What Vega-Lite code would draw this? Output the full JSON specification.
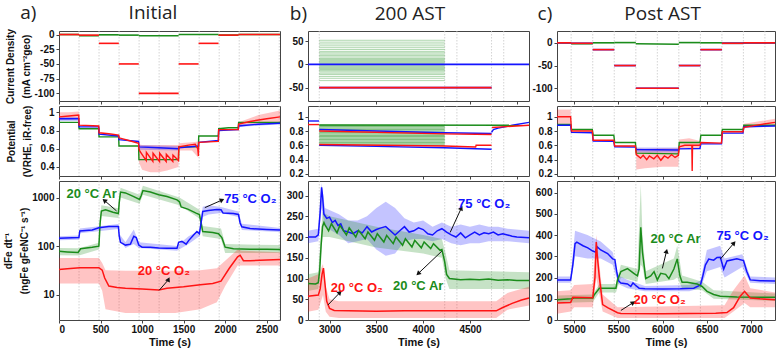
{
"$schema":"https://vega.github.io/schema/vega-lite/v6.json",
"padding":{"left":3,"top":3,"right":0,"bottom":0},
"background":"white",
"config":{
 "view":{"stroke":"#444","strokeWidth":1},
 "axis":{"labelFont":"Liberation Sans","labelFontWeight":"bold","labelFontSize":10,"labelColor":"#111","titleFont":"Liberation Sans","titleFontWeight":"bold","titleFontSize":10,"titleColor":"#111","domain":false,"tickColor":"#444","tickSize":3,"grid":false,"labelPadding":2,"titlePadding":2,"titleLineHeight":16,"labelExpr":"replace(datum.label, '−', '-')"},
 "axisX":{"titleFontSize":11,"titlePadding":2,"labelPadding":1},
 "mark":{"clip":true}
},
"datasets":{
 "ha":[{"t":-369,"v":35.8,"label":"a)"},{"t":1131,"v":35.8,"label":"Initial"}],
 "hb":[{"t":2668,"v":109.7,"label":"b)"},{"t":3859,"v":109.7,"label":"200 AST"}],
 "hc":[{"t":4670,"v":64.5,"label":"c)"},{"t":6000,"v":64.5,"label":"Post AST"}],
 "gA":[{"t":241},{"t":482},{"t":723},{"t":964},{"t":1205},{"t":1446},{"t":1687},{"t":1928},{"t":2169},{"t":2410},{"t":2651}],
 "gB":[{"t":2890},{"t":4230},{"t":4360},{"t":4730},{"t":4860}],
 "gC":[{"t":4966},{"t":5210},{"t":5453},{"t":5697},{"t":5940},{"t":6183},{"t":6427},{"t":6670},{"t":6913},{"t":7156}],
 "a1":[
  {"t":0,"v":0,"s":"g","k":"g1"},{"t":240,"v":0,"s":"g","k":"g1"},
  {"t":240,"v":-2,"s":"g","k":"g2"},{"t":480,"v":-2,"s":"g","k":"g2"},
  {"t":480,"v":-0.5,"s":"g","k":"g3"},{"t":720,"v":-0.5,"s":"g","k":"g3"},
  {"t":720,"v":-1,"s":"g","k":"g4"},{"t":960,"v":-1,"s":"g","k":"g4"},
  {"t":960,"v":-2,"s":"g","k":"g5"},{"t":1440,"v":-2,"s":"g","k":"g5"},
  {"t":1440,"v":0,"s":"g","k":"g6"},{"t":1920,"v":0,"s":"g","k":"g6"},
  {"t":1920,"v":-1,"s":"g","k":"g7"},{"t":2160,"v":-1,"s":"g","k":"g7"},
  {"t":2160,"v":0,"s":"g","k":"g8"},{"t":2660,"v":0,"s":"g","k":"g8"},
  {"t":0,"v":0,"s":"r","k":"r1"},{"t":240,"v":0,"s":"r","k":"r1"},
  {"t":240,"v":-1,"s":"r","k":"r2"},{"t":480,"v":-1,"s":"r","k":"r2"},
  {"t":480,"v":-15,"s":"r","k":"r3"},{"t":720,"v":-15,"s":"r","k":"r3"},
  {"t":720,"v":-50,"s":"r","k":"r4"},{"t":960,"v":-50,"s":"r","k":"r4"},
  {"t":960,"v":-100,"s":"r","k":"r5"},{"t":1440,"v":-100,"s":"r","k":"r5"},
  {"t":1440,"v":-50,"s":"r","k":"r6"},{"t":1680,"v":-50,"s":"r","k":"r6"},
  {"t":1680,"v":-15,"s":"r","k":"r7"},{"t":1920,"v":-15,"s":"r","k":"r7"},
  {"t":1920,"v":-1,"s":"r","k":"r8"},{"t":2160,"v":-1,"s":"r","k":"r8"},
  {"t":2160,"v":0,"s":"r","k":"r9"},{"t":2660,"v":0,"s":"r","k":"r9"}
 ],
 "a2":[
  {"t":0,"v":0.89,"s":"g"},{"t":238,"v":0.89,"s":"g"},{"t":242,"v":0.82,"s":"g"},{"t":478,"v":0.82,"s":"g"},{"t":482,"v":0.73,"s":"g"},{"t":718,"v":0.73,"s":"g"},{"t":722,"v":0.63,"s":"g"},{"t":958,"v":0.63,"s":"g"},{"t":962,"v":0.48,"s":"g"},{"t":1438,"v":0.48,"s":"g"},{"t":1442,"v":0.62,"s":"g"},{"t":1678,"v":0.62,"s":"g"},{"t":1682,"v":0.74,"s":"g"},{"t":1918,"v":0.74,"s":"g"},{"t":1922,"v":0.82,"s":"g"},{"t":2040,"v":0.83,"s":"g"},{"t":2158,"v":0.83,"s":"g"},{"t":2162,"v":0.89,"s":"g"},{"t":2660,"v":0.89,"s":"g"},
  {"t":0,"v":0.93,"s":"b"},{"t":238,"v":0.93,"s":"b"},{"t":242,"v":0.84,"s":"b"},{"t":478,"v":0.84,"s":"b"},{"t":482,"v":0.76,"s":"b"},{"t":718,"v":0.74,"s":"b"},{"t":722,"v":0.70,"s":"b"},{"t":958,"v":0.68,"s":"b"},{"t":962,"v":0.62,"s":"b"},{"t":1200,"v":0.61,"s":"b"},{"t":1438,"v":0.60,"s":"b"},{"t":1442,"v":0.61,"s":"b"},{"t":1678,"v":0.63,"s":"b"},{"t":1682,"v":0.67,"s":"b"},{"t":1918,"v":0.69,"s":"b"},{"t":1922,"v":0.80,"s":"b"},{"t":2158,"v":0.81,"s":"b"},{"t":2162,"v":0.85,"s":"b"},{"t":2400,"v":0.87,"s":"b"},{"t":2660,"v":0.88,"s":"b"},
  {"t":0,"v":0.95,"s":"r"},{"t":120,"v":0.96,"s":"r"},{"t":238,"v":0.97,"s":"r"},{"t":242,"v":0.86,"s":"r"},{"t":478,"v":0.85,"s":"r"},{"t":482,"v":0.775,"s":"r"},{"t":600,"v":0.765,"s":"r"},{"t":718,"v":0.75,"s":"r"},{"t":722,"v":0.72,"s":"r"},{"t":840,"v":0.69,"s":"r"},{"t":958,"v":0.66,"s":"r"},{"t":962,"v":0.60,"s":"r"},{"t":975,"v":0.57,"s":"r"},{"t":1050,"v":0.47,"s":"r"},{"t":1052,"v":0.56,"s":"r"},{"t":1130,"v":0.46,"s":"r"},{"t":1132,"v":0.55,"s":"r"},{"t":1210,"v":0.46,"s":"r"},{"t":1212,"v":0.55,"s":"r"},{"t":1290,"v":0.46,"s":"r"},{"t":1292,"v":0.54,"s":"r"},{"t":1370,"v":0.46,"s":"r"},{"t":1372,"v":0.53,"s":"r"},{"t":1438,"v":0.47,"s":"r"},{"t":1442,"v":0.62,"s":"r"},{"t":1560,"v":0.64,"s":"r"},{"t":1640,"v":0.65,"s":"r"},{"t":1670,"v":0.60,"s":"r"},{"t":1678,"v":0.52,"s":"r"},{"t":1682,"v":0.67,"s":"r"},{"t":1918,"v":0.68,"s":"r"},{"t":1922,"v":0.81,"s":"r"},{"t":2158,"v":0.81,"s":"r"},{"t":2162,"v":0.87,"s":"r"},{"t":2300,"v":0.90,"s":"r"},{"t":2500,"v":0.93,"s":"r"},{"t":2660,"v":0.95,"s":"r"}
 ],
 "a2b":[
  {"t":0,"lo":0.92,"hi":1.0,"s":"r","k":"r1"},{"t":120,"lo":0.92,"hi":1.0,"s":"r","k":"r1"},{"t":238,"lo":0.93,"hi":1.01,"s":"r","k":"r1"},
  {"t":962,"lo":0.45,"hi":0.65,"s":"r","k":"r5"},{"t":1000,"lo":0.37,"hi":0.64,"s":"r","k":"r5"},{"t":1100,"lo":0.34,"hi":0.64,"s":"r","k":"r5"},{"t":1200,"lo":0.34,"hi":0.64,"s":"r","k":"r5"},{"t":1300,"lo":0.36,"hi":0.64,"s":"r","k":"r5"},{"t":1438,"lo":0.40,"hi":0.64,"s":"r","k":"r5"},{"t":1442,"lo":0.58,"hi":0.66,"s":"r","k":"r5"},{"t":1600,"lo":0.58,"hi":0.67,"s":"r","k":"r5"},{"t":1678,"lo":0.50,"hi":0.68,"s":"r","k":"r5"},
  {"t":2162,"lo":0.86,"hi":0.89,"s":"r","k":"r9"},{"t":2400,"lo":0.87,"hi":0.97,"s":"r","k":"r9"},{"t":2660,"lo":0.88,"hi":1.02,"s":"r","k":"r9"},
  {"t":0,"lo":0.905,"hi":0.95,"s":"b","k":"b1"},{"t":238,"lo":0.905,"hi":0.95,"s":"b","k":"b1"},
  {"t":962,"lo":0.59,"hi":0.64,"s":"b","k":"b5"},{"t":1438,"lo":0.58,"hi":0.63,"s":"b","k":"b5"},
  {"t":2162,"lo":0.84,"hi":0.87,"s":"b","k":"b9"},{"t":2660,"lo":0.87,"hi":0.89,"s":"b","k":"b9"}
 ],
 "a3":[
  {"t":0,"v":78,"s":"g"},{"t":100,"v":76,"s":"g"},{"t":230,"v":74,"s":"g"},{"t":260,"v":88,"s":"g"},{"t":400,"v":95,"s":"g"},{"t":480,"v":100,"s":"g"},{"t":495,"v":300,"s":"g"},{"t":510,"v":530,"s":"g"},{"t":560,"v":560,"s":"g"},{"t":650,"v":500,"s":"g"},{"t":715,"v":470,"s":"g"},{"t":725,"v":800,"s":"g"},{"t":740,"v":1300,"s":"g"},{"t":800,"v":1250,"s":"g"},{"t":900,"v":1050,"s":"g"},{"t":970,"v":920,"s":"g"},{"t":990,"v":1100,"s":"g"},{"t":1010,"v":1400,"s":"g"},{"t":1100,"v":1300,"s":"g"},{"t":1200,"v":1150,"s":"g"},{"t":1300,"v":1050,"s":"g"},{"t":1420,"v":900,"s":"g"},{"t":1450,"v":820,"s":"g"},{"t":1470,"v":640,"s":"g"},{"t":1550,"v":580,"s":"g"},{"t":1650,"v":480,"s":"g"},{"t":1690,"v":450,"s":"g"},{"t":1710,"v":300,"s":"g"},{"t":1730,"v":200,"s":"g"},{"t":1850,"v":190,"s":"g"},{"t":1920,"v":180,"s":"g"},{"t":1960,"v":150,"s":"g"},{"t":2000,"v":95,"s":"g"},{"t":2100,"v":88,"s":"g"},{"t":2300,"v":86,"s":"g"},{"t":2500,"v":86,"s":"g"},{"t":2660,"v":85,"s":"g"},
  {"t":0,"v":145,"s":"b"},{"t":240,"v":150,"s":"b"},{"t":250,"v":205,"s":"b"},{"t":400,"v":215,"s":"b"},{"t":480,"v":240,"s":"b"},{"t":600,"v":255,"s":"b"},{"t":715,"v":255,"s":"b"},{"t":725,"v":160,"s":"b"},{"t":740,"v":120,"s":"b"},{"t":800,"v":105,"s":"b"},{"t":860,"v":110,"s":"b"},{"t":900,"v":160,"s":"b"},{"t":930,"v":150,"s":"b"},{"t":960,"v":105,"s":"b"},{"t":1000,"v":95,"s":"b"},{"t":1100,"v":95,"s":"b"},{"t":1200,"v":92,"s":"b"},{"t":1300,"v":90,"s":"b"},{"t":1420,"v":90,"s":"b"},{"t":1440,"v":120,"s":"b"},{"t":1480,"v":125,"s":"b"},{"t":1530,"v":110,"s":"b"},{"t":1560,"v":130,"s":"b"},{"t":1620,"v":170,"s":"b"},{"t":1660,"v":200,"s":"b"},{"t":1690,"v":180,"s":"b"},{"t":1710,"v":300,"s":"b"},{"t":1730,"v":520,"s":"b"},{"t":1800,"v":540,"s":"b"},{"t":1900,"v":570,"s":"b"},{"t":1950,"v":560,"s":"b"},{"t":1975,"v":480,"s":"b"},{"t":2100,"v":470,"s":"b"},{"t":2160,"v":450,"s":"b"},{"t":2180,"v":300,"s":"b"},{"t":2200,"v":250,"s":"b"},{"t":2300,"v":230,"s":"b"},{"t":2500,"v":220,"s":"b"},{"t":2660,"v":215,"s":"b"},
  {"t":0,"v":33,"s":"r"},{"t":100,"v":34,"s":"r"},{"t":250,"v":36,"s":"r"},{"t":480,"v":36,"s":"r"},{"t":520,"v":32,"s":"r"},{"t":550,"v":22,"s":"r"},{"t":600,"v":15,"s":"r"},{"t":700,"v":14,"s":"r"},{"t":800,"v":13.5,"s":"r"},{"t":1000,"v":13,"s":"r"},{"t":1200,"v":12.5,"s":"r"},{"t":1300,"v":13.5,"s":"r"},{"t":1500,"v":14.5,"s":"r"},{"t":1700,"v":16,"s":"r"},{"t":1850,"v":17,"s":"r"},{"t":1950,"v":19,"s":"r"},{"t":2050,"v":35,"s":"r"},{"t":2150,"v":60,"s":"r"},{"t":2180,"v":65,"s":"r"},{"t":2220,"v":50,"s":"r"},{"t":2300,"v":50,"s":"r"},{"t":2500,"v":52,"s":"r"},{"t":2660,"v":53,"s":"r"}
 ],
 "a3b":[
  {"t":0,"lo":65,"hi":92,"s":"g"},{"t":240,"lo":64,"hi":90,"s":"g"},{"t":480,"lo":85,"hi":118,"s":"g"},{"t":495,"lo":250,"hi":380,"s":"g"},{"t":510,"lo":420,"hi":700,"s":"g"},{"t":715,"lo":380,"hi":600,"s":"g"},{"t":740,"lo":1000,"hi":1600,"s":"g"},{"t":970,"lo":750,"hi":1150,"s":"g"},{"t":1010,"lo":1150,"hi":1750,"s":"g"},{"t":1450,"lo":700,"hi":1000,"s":"g"},{"t":1690,"lo":370,"hi":560,"s":"g"},{"t":1730,"lo":160,"hi":260,"s":"g"},{"t":1950,"lo":140,"hi":230,"s":"g"},{"t":2000,"lo":72,"hi":110,"s":"g"},{"t":2660,"lo":72,"hi":105,"s":"g"},
  {"t":0,"lo":132,"hi":160,"s":"b"},{"t":240,"lo":135,"hi":165,"s":"b"},{"t":250,"lo":185,"hi":230,"s":"b"},{"t":715,"lo":225,"hi":285,"s":"b"},{"t":725,"lo":140,"hi":180,"s":"b"},{"t":800,"lo":92,"hi":120,"s":"b"},{"t":900,"lo":110,"hi":220,"s":"b"},{"t":960,"lo":92,"hi":120,"s":"b"},{"t":1420,"lo":80,"hi":100,"s":"b"},{"t":1560,"lo":110,"hi":160,"s":"b"},{"t":1690,"lo":160,"hi":210,"s":"b"},{"t":1730,"lo":400,"hi":650,"s":"b"},{"t":1800,"lo":450,"hi":700,"s":"b"},{"t":1950,"lo":480,"hi":640,"s":"b"},{"t":2160,"lo":400,"hi":520,"s":"b"},{"t":2200,"lo":215,"hi":290,"s":"b"},{"t":2660,"lo":195,"hi":235,"s":"b"},
  {"t":0,"lo":17,"hi":57,"s":"r"},{"t":480,"lo":17,"hi":57,"s":"r"},{"t":520,"lo":12,"hi":45,"s":"r"},{"t":560,"lo":5,"hi":32,"s":"r"},{"t":800,"lo":4.2,"hi":31,"s":"r"},{"t":1400,"lo":4.2,"hi":31,"s":"r"},{"t":1700,"lo":5,"hi":32,"s":"r"},{"t":1900,"lo":7,"hi":35,"s":"r"},{"t":2000,"lo":15,"hi":50,"s":"r"},{"t":2150,"lo":40,"hi":85,"s":"r"},{"t":2200,"lo":40,"hi":80,"s":"r"},{"t":2660,"lo":40,"hi":75,"s":"r"}
 ],
 "a3x":[{"t":553,"v":855,"t2":693,"v2":531,"a":310},{"t":1955,"v":880,"t2":1755,"v2":621,"a":66},{"t":1314,"v":20,"t2":1206,"v2":12.3,"a":27}],
 "a3t":[{"t":393,"v":1170,"label":"20 °C Ar","s":"g"},{"t":2304,"v":920,"label":"75 °C O₂","s":"b"},{"t":1262,"v":30,"label":"20 °C O₂","s":"r"}],
 "b1":[
  {"t":2770,"v":0,"s":"b","k":"b0"},{"t":5130,"v":0,"s":"b","k":"b0"},
  {"t":2890,"v":-50,"s":"b","k":"b50"},{"t":4730,"v":-50,"s":"b","k":"b50"},
  {"t":2890,"v":-50,"s":"r","k":"r50"},{"t":4730,"v":-50,"s":"r","k":"r50"}
 ],
 "b1g":[{"t":2890,"t2":4230,"v":52},{"t":2890,"t2":4230,"v":48},{"t":2890,"t2":4230,"v":44},{"t":2890,"t2":4230,"v":40},{"t":2890,"t2":4230,"v":36},{"t":2890,"t2":4230,"v":32},{"t":2890,"t2":4230,"v":28},{"t":2890,"t2":4230,"v":25},{"t":2890,"t2":4230,"v":22},{"t":2890,"t2":4230,"v":19},{"t":2890,"t2":4230,"v":16},{"t":2890,"t2":4230,"v":13},{"t":2890,"t2":4230,"v":11},{"t":2890,"t2":4230,"v":9},{"t":2890,"t2":4230,"v":7},{"t":2890,"t2":4230,"v":5},{"t":2890,"t2":4230,"v":3},{"t":2890,"t2":4230,"v":1},{"t":2890,"t2":4230,"v":-1},{"t":2890,"t2":4230,"v":-3},{"t":2890,"t2":4230,"v":-5},{"t":2890,"t2":4230,"v":-7},{"t":2890,"t2":4230,"v":-9},{"t":2890,"t2":4230,"v":-11},{"t":2890,"t2":4230,"v":-13},{"t":2890,"t2":4230,"v":-16},{"t":2890,"t2":4230,"v":-19},{"t":2890,"t2":4230,"v":-22},{"t":2890,"t2":4230,"v":-26},{"t":2890,"t2":4230,"v":-30},{"t":2890,"t2":4230,"v":-35}],
 "b2":[
  {"t":2770,"v":0.94,"s":"b","k":"bp"},{"t":2888,"v":0.94,"s":"b","k":"bp"},
  {"t":2890,"v":0.82,"s":"b","k":"bt"},{"t":3500,"v":0.80,"s":"b","k":"bt"},{"t":4230,"v":0.775,"s":"b","k":"bt"},{"t":4730,"v":0.765,"s":"b","k":"bt"},
  {"t":2890,"v":0.60,"s":"b","k":"bb"},{"t":3500,"v":0.585,"s":"b","k":"bb"},{"t":4230,"v":0.565,"s":"b","k":"bb"},{"t":4730,"v":0.545,"s":"b","k":"bb"},
  {"t":4730,"v":0.78,"s":"b","k":"bq"},{"t":4750,"v":0.82,"s":"b","k":"bq"},{"t":4800,"v":0.84,"s":"b","k":"bq"},{"t":4950,"v":0.88,"s":"b","k":"bq"},{"t":5130,"v":0.92,"s":"b","k":"bq"},
  {"t":2890,"v":0.885,"s":"g","k":"gt"},{"t":5130,"v":0.88,"s":"g","k":"gt"},
  {"t":2770,"v":0.89,"s":"r","k":"rp"},{"t":2888,"v":0.89,"s":"r","k":"rp"},
  {"t":2890,"v":0.80,"s":"r","k":"rt"},{"t":4230,"v":0.76,"s":"r","k":"rt"},{"t":4730,"v":0.75,"s":"r","k":"rt"},
  {"t":2890,"v":0.61,"s":"r","k":"rb"},{"t":4230,"v":0.59,"s":"r","k":"rb"},{"t":4560,"v":0.575,"s":"r","k":"rb"},{"t":4565,"v":0.60,"s":"r","k":"rb"},{"t":4730,"v":0.60,"s":"r","k":"rb"},
  {"t":4735,"v":0.85,"s":"r","k":"rq"},{"t":5130,"v":0.88,"s":"r","k":"rq"}
 ],
 "b2g":[{"t":2890,"t2":4230,"v":0.60},{"t":2890,"t2":4230,"v":0.62},{"t":2890,"t2":4230,"v":0.64},{"t":2890,"t2":4230,"v":0.66},{"t":2890,"t2":4230,"v":0.68},{"t":2890,"t2":4230,"v":0.70},{"t":2890,"t2":4230,"v":0.72},{"t":2890,"t2":4230,"v":0.74},{"t":2890,"t2":4230,"v":0.76},{"t":2890,"t2":4230,"v":0.78},{"t":2890,"t2":4230,"v":0.80},{"t":2890,"t2":4230,"v":0.82},{"t":2890,"t2":4230,"v":0.84},{"t":2890,"t2":4230,"v":0.86},{"t":2890,"t2":4230,"v":0.88}],
 "b3":[
  {"t":2770,"v":200,"s":"b"},{"t":2850,"v":200,"s":"b"},{"t":2880,"v":205,"s":"b"},{"t":2900,"v":260,"s":"b"},{"t":2915,"v":320,"s":"b"},{"t":2925,"v":300,"s":"b"},{"t":2940,"v":255,"s":"b"},{"t":2970,"v":245,"s":"b"},{"t":3000,"v":248,"s":"b"},{"t":3030,"v":235,"s":"b"},{"t":3060,"v":240,"s":"b"},{"t":3090,"v":228,"s":"b"},{"t":3120,"v":232,"s":"b"},{"t":3150,"v":215,"s":"b"},{"t":3200,"v":212,"s":"b"},{"t":3250,"v":208,"s":"b"},{"t":3300,"v":215,"s":"b"},{"t":3350,"v":210,"s":"b"},{"t":3400,"v":225,"s":"b"},{"t":3450,"v":212,"s":"b"},{"t":3500,"v":218,"s":"b"},{"t":3550,"v":222,"s":"b"},{"t":3600,"v":225,"s":"b"},{"t":3650,"v":215,"s":"b"},{"t":3700,"v":205,"s":"b"},{"t":3750,"v":215,"s":"b"},{"t":3800,"v":225,"s":"b"},{"t":3850,"v":212,"s":"b"},{"t":3900,"v":215,"s":"b"},{"t":3950,"v":222,"s":"b"},{"t":4000,"v":218,"s":"b"},{"t":4050,"v":208,"s":"b"},{"t":4100,"v":205,"s":"b"},{"t":4150,"v":215,"s":"b"},{"t":4200,"v":220,"s":"b"},{"t":4250,"v":212,"s":"b"},{"t":4300,"v":205,"s":"b"},{"t":4350,"v":200,"s":"b"},{"t":4400,"v":210,"s":"b"},{"t":4450,"v":198,"s":"b"},{"t":4500,"v":205,"s":"b"},{"t":4550,"v":212,"s":"b"},{"t":4600,"v":205,"s":"b"},{"t":4650,"v":210,"s":"b"},{"t":4700,"v":208,"s":"b"},{"t":4750,"v":212,"s":"b"},{"t":4800,"v":205,"s":"b"},{"t":4850,"v":208,"s":"b"},{"t":4900,"v":205,"s":"b"},{"t":4950,"v":202,"s":"b"},{"t":5000,"v":200,"s":"b"},{"t":5130,"v":198,"s":"b"},
  {"t":2770,"v":88,"s":"g"},{"t":2850,"v":87,"s":"g"},{"t":2880,"v":90,"s":"g"},{"t":2895,"v":120,"s":"g"},{"t":2910,"v":180,"s":"g"},{"t":2925,"v":225,"s":"g"},{"t":2940,"v":235,"s":"g"},{"t":2950,"v":230,"s":"g"},{"t":2990,"v":215,"s":"g"},{"t":3020,"v":232,"s":"g"},{"t":3080,"v":210,"s":"g"},{"t":3110,"v":228,"s":"g"},{"t":3180,"v":205,"s":"g"},{"t":3210,"v":222,"s":"g"},{"t":3280,"v":200,"s":"g"},{"t":3310,"v":216,"s":"g"},{"t":3380,"v":196,"s":"g"},{"t":3410,"v":212,"s":"g"},{"t":3480,"v":192,"s":"g"},{"t":3510,"v":208,"s":"g"},{"t":3580,"v":188,"s":"g"},{"t":3610,"v":204,"s":"g"},{"t":3680,"v":184,"s":"g"},{"t":3710,"v":200,"s":"g"},{"t":3780,"v":180,"s":"g"},{"t":3810,"v":196,"s":"g"},{"t":3880,"v":176,"s":"g"},{"t":3910,"v":192,"s":"g"},{"t":3980,"v":174,"s":"g"},{"t":4010,"v":188,"s":"g"},{"t":4080,"v":172,"s":"g"},{"t":4110,"v":184,"s":"g"},{"t":4180,"v":168,"s":"g"},{"t":4200,"v":170,"s":"g"},{"t":4230,"v":140,"s":"g"},{"t":4250,"v":110,"s":"g"},{"t":4280,"v":100,"s":"g"},{"t":4400,"v":97,"s":"g"},{"t":4500,"v":98,"s":"g"},{"t":4600,"v":97,"s":"g"},{"t":4700,"v":99,"s":"g"},{"t":4800,"v":96,"s":"g"},{"t":4900,"v":97,"s":"g"},{"t":5000,"v":95,"s":"g"},{"t":5130,"v":95,"s":"g"},
  {"t":2770,"v":57,"s":"r"},{"t":2880,"v":60,"s":"r"},{"t":2900,"v":75,"s":"r"},{"t":2920,"v":110,"s":"r"},{"t":2935,"v":125,"s":"r"},{"t":2950,"v":90,"s":"r"},{"t":2970,"v":45,"s":"r"},{"t":3000,"v":28,"s":"r"},{"t":3050,"v":23,"s":"r"},{"t":3200,"v":22,"s":"r"},{"t":3500,"v":21,"s":"r"},{"t":3800,"v":22,"s":"r"},{"t":4200,"v":22,"s":"r"},{"t":4500,"v":22,"s":"r"},{"t":4780,"v":22,"s":"r"},{"t":4850,"v":30,"s":"r"},{"t":4950,"v":40,"s":"r"},{"t":5050,"v":48,"s":"r"},{"t":5130,"v":53,"s":"r"}
 ],
 "b3b":[
  {"t":2770,"lo":185,"hi":215,"s":"b"},{"t":2880,"lo":190,"hi":220,"s":"b"},{"t":2915,"lo":270,"hi":330,"s":"b"},{"t":2950,"lo":225,"hi":270,"s":"b"},{"t":3100,"lo":205,"hi":255,"s":"b"},{"t":3200,"lo":185,"hi":240,"s":"b"},{"t":3300,"lo":190,"hi":240,"s":"b"},{"t":3400,"lo":195,"hi":250,"s":"b"},{"t":3500,"lo":170,"hi":270,"s":"b"},{"t":3600,"lo":155,"hi":285,"s":"b"},{"t":3700,"lo":160,"hi":270,"s":"b"},{"t":3800,"lo":190,"hi":245,"s":"b"},{"t":3900,"lo":195,"hi":235,"s":"b"},{"t":4000,"lo":195,"hi":240,"s":"b"},{"t":4100,"lo":190,"hi":225,"s":"b"},{"t":4200,"lo":195,"hi":235,"s":"b"},{"t":4300,"lo":185,"hi":225,"s":"b"},{"t":4400,"lo":180,"hi":230,"s":"b"},{"t":4500,"lo":185,"hi":225,"s":"b"},{"t":4600,"lo":185,"hi":230,"s":"b"},{"t":4700,"lo":190,"hi":225,"s":"b"},{"t":4800,"lo":190,"hi":225,"s":"b"},{"t":4900,"lo":190,"hi":220,"s":"b"},{"t":5130,"lo":185,"hi":215,"s":"b"},
  {"t":2770,"lo":70,"hi":110,"s":"g"},{"t":2880,"lo":75,"hi":115,"s":"g"},{"t":2925,"lo":200,"hi":260,"s":"g"},{"t":3000,"lo":200,"hi":250,"s":"g"},{"t":3500,"lo":175,"hi":225,"s":"g"},{"t":4000,"lo":160,"hi":205,"s":"g"},{"t":4200,"lo":150,"hi":195,"s":"g"},{"t":4240,"lo":100,"hi":160,"s":"g"},{"t":4280,"lo":75,"hi":120,"s":"g"},{"t":5130,"lo":75,"hi":115,"s":"g"},
  {"t":2770,"lo":20,"hi":100,"s":"r"},{"t":2880,"lo":25,"hi":110,"s":"r"},{"t":2930,"lo":60,"hi":135,"s":"r"},{"t":2960,"lo":20,"hi":80,"s":"r"},{"t":3000,"lo":8,"hi":50,"s":"r"},{"t":3100,"lo":5,"hi":45,"s":"r"},{"t":4780,"lo":5,"hi":45,"s":"r"},{"t":4900,"lo":25,"hi":65,"s":"r"},{"t":5130,"lo":35,"hi":80,"s":"r"}
 ],
 "b3x":[{"t":4404,"v":268,"t2":4288,"v2":211,"a":25},{"t":3952,"v":113,"t2":4199,"v2":166,"a":227},{"t":3106,"v":65,"t2":2982,"v2":36,"a":45}],
 "b3t":[{"t":4651,"v":280,"label":"75 °C O₂","s":"b"},{"t":3947,"v":81,"label":"20 °C Ar","s":"g"},{"t":3291,"v":77,"label":"20 °C O₂","s":"r"}],
 "c1":[
  {"t":4806,"v":0,"s":"g","k":"g1"},{"t":4966,"v":0,"s":"g","k":"g1"},
  {"t":4966,"v":-2,"s":"g","k":"g2"},{"t":5210,"v":-2,"s":"g","k":"g2"},
  {"t":5210,"v":0,"s":"g","k":"g3"},{"t":5453,"v":0,"s":"g","k":"g3"},
  {"t":5453,"v":0.5,"s":"g","k":"g4"},{"t":5697,"v":0.5,"s":"g","k":"g4"},
  {"t":5697,"v":-2,"s":"g","k":"g5"},{"t":6183,"v":-3,"s":"g","k":"g5"},
  {"t":6183,"v":0.5,"s":"g","k":"g6"},{"t":6427,"v":0.5,"s":"g","k":"g6"},
  {"t":6427,"v":0,"s":"g","k":"g7"},{"t":6670,"v":0,"s":"g","k":"g7"},
  {"t":6670,"v":-1,"s":"g","k":"g8"},{"t":6913,"v":-1,"s":"g","k":"g8"},
  {"t":6913,"v":0,"s":"g","k":"g9"},{"t":7270,"v":0,"s":"g","k":"g9"},
  {"t":4806,"v":0,"s":"b","k":"b1"},{"t":4966,"v":0,"s":"b","k":"b1"},
  {"t":4966,"v":-1,"s":"b","k":"b2"},{"t":5210,"v":-1,"s":"b","k":"b2"},
  {"t":5210,"v":-15,"s":"b","k":"b3"},{"t":5453,"v":-15,"s":"b","k":"b3"},
  {"t":5453,"v":-50,"s":"b","k":"b4"},{"t":5697,"v":-50,"s":"b","k":"b4"},
  {"t":5697,"v":-100,"s":"b","k":"b5"},{"t":6183,"v":-100,"s":"b","k":"b5"},
  {"t":6183,"v":-50,"s":"b","k":"b6"},{"t":6427,"v":-50,"s":"b","k":"b6"},
  {"t":6427,"v":-15,"s":"b","k":"b7"},{"t":6670,"v":-15,"s":"b","k":"b7"},
  {"t":6670,"v":-1,"s":"b","k":"b8"},{"t":6913,"v":-1,"s":"b","k":"b8"},
  {"t":6913,"v":0,"s":"b","k":"b9"},{"t":7270,"v":0,"s":"b","k":"b9"},
  {"t":4806,"v":0,"s":"r","k":"r1"},{"t":4966,"v":0,"s":"r","k":"r1"},
  {"t":4966,"v":-1,"s":"r","k":"r2"},{"t":5210,"v":-1,"s":"r","k":"r2"},
  {"t":5210,"v":-15,"s":"r","k":"r3"},{"t":5453,"v":-15,"s":"r","k":"r3"},
  {"t":5453,"v":-50,"s":"r","k":"r4"},{"t":5697,"v":-50,"s":"r","k":"r4"},
  {"t":5697,"v":-100,"s":"r","k":"r5"},{"t":6183,"v":-100,"s":"r","k":"r5"},
  {"t":6183,"v":-50,"s":"r","k":"r6"},{"t":6427,"v":-50,"s":"r","k":"r6"},
  {"t":6427,"v":-15,"s":"r","k":"r7"},{"t":6670,"v":-15,"s":"r","k":"r7"},
  {"t":6670,"v":-1,"s":"r","k":"r8"},{"t":6913,"v":-1,"s":"r","k":"r8"},
  {"t":6913,"v":0,"s":"r","k":"r9"},{"t":7270,"v":0,"s":"r","k":"r9"}
 ],
 "c2":[
  {"t":4806,"v":0.89,"s":"g"},{"t":4960,"v":0.89,"s":"g"},{"t":4970,"v":0.82,"s":"g"},{"t":5205,"v":0.82,"s":"g"},{"t":5215,"v":0.74,"s":"g"},{"t":5448,"v":0.74,"s":"g"},{"t":5458,"v":0.64,"s":"g"},{"t":5692,"v":0.64,"s":"g"},{"t":5702,"v":0.49,"s":"g"},{"t":6178,"v":0.48,"s":"g"},{"t":6188,"v":0.64,"s":"g"},{"t":6422,"v":0.64,"s":"g"},{"t":6432,"v":0.74,"s":"g"},{"t":6665,"v":0.74,"s":"g"},{"t":6675,"v":0.82,"s":"g"},{"t":6908,"v":0.82,"s":"g"},{"t":6918,"v":0.88,"s":"g"},{"t":7270,"v":0.88,"s":"g"},
  {"t":4806,"v":0.88,"s":"b"},{"t":4960,"v":0.88,"s":"b"},{"t":4970,"v":0.78,"s":"b"},{"t":5205,"v":0.775,"s":"b"},{"t":5215,"v":0.66,"s":"b"},{"t":5448,"v":0.655,"s":"b"},{"t":5458,"v":0.58,"s":"b"},{"t":5692,"v":0.575,"s":"b"},{"t":5702,"v":0.54,"s":"b"},{"t":6178,"v":0.535,"s":"b"},{"t":6188,"v":0.55,"s":"b"},{"t":6422,"v":0.555,"s":"b"},{"t":6432,"v":0.62,"s":"b"},{"t":6665,"v":0.62,"s":"b"},{"t":6675,"v":0.77,"s":"b"},{"t":6908,"v":0.77,"s":"b"},{"t":6918,"v":0.86,"s":"b"},{"t":7270,"v":0.87,"s":"b"},
  {"t":4806,"v":1.0,"s":"r"},{"t":4960,"v":1.0,"s":"r"},{"t":4970,"v":0.80,"s":"r"},{"t":5205,"v":0.80,"s":"r"},{"t":5215,"v":0.67,"s":"r"},{"t":5448,"v":0.67,"s":"r"},{"t":5458,"v":0.59,"s":"r"},{"t":5692,"v":0.59,"s":"r"},{"t":5702,"v":0.47,"s":"r"},{"t":5750,"v":0.42,"s":"r"},{"t":5780,"v":0.46,"s":"r"},{"t":5820,"v":0.40,"s":"r"},{"t":5850,"v":0.45,"s":"r"},{"t":5900,"v":0.41,"s":"r"},{"t":5940,"v":0.46,"s":"r"},{"t":5980,"v":0.39,"s":"r"},{"t":6020,"v":0.45,"s":"r"},{"t":6060,"v":0.42,"s":"r"},{"t":6100,"v":0.47,"s":"r"},{"t":6140,"v":0.43,"s":"r"},{"t":6178,"v":0.46,"s":"r"},{"t":6188,"v":0.58,"s":"r"},{"t":6250,"v":0.60,"s":"r"},{"t":6330,"v":0.60,"s":"r"},{"t":6334,"v":0.24,"s":"r"},{"t":6338,"v":0.60,"s":"r"},{"t":6422,"v":0.60,"s":"r"},{"t":6432,"v":0.64,"s":"r"},{"t":6665,"v":0.63,"s":"r"},{"t":6675,"v":0.79,"s":"r"},{"t":6908,"v":0.79,"s":"r"},{"t":6918,"v":0.85,"s":"r"},{"t":7100,"v":0.89,"s":"r"},{"t":7270,"v":0.92,"s":"r"}
 ],
 "c2b":[
  {"t":4806,"lo":0.9,"hi":1.1,"s":"r","k":"r1"},{"t":4960,"lo":0.9,"hi":1.1,"s":"r","k":"r1"},
  {"t":5702,"lo":0.26,"hi":0.56,"s":"r","k":"r5"},{"t":5800,"lo":0.28,"hi":0.55,"s":"r","k":"r5"},{"t":6000,"lo":0.30,"hi":0.56,"s":"r","k":"r5"},{"t":6178,"lo":0.30,"hi":0.56,"s":"r","k":"r5"},{"t":6188,"lo":0.55,"hi":0.68,"s":"r","k":"r5"},{"t":6300,"lo":0.56,"hi":0.70,"s":"r","k":"r5"},{"t":6422,"lo":0.55,"hi":0.66,"s":"r","k":"r5"},
  {"t":6918,"lo":0.84,"hi":0.9,"s":"r","k":"r9"},{"t":7270,"lo":0.88,"hi":0.97,"s":"r","k":"r9"},
  {"t":5702,"lo":0.50,"hi":0.57,"s":"b","k":"b5"},{"t":6178,"lo":0.50,"hi":0.57,"s":"b","k":"b5"}
 ],
 "c3":[
  {"t":4806,"v":189,"s":"b"},{"t":4960,"v":189,"s":"b"},{"t":4985,"v":260,"s":"b"},{"t":5010,"v":360,"s":"b"},{"t":5030,"v":367,"s":"b"},{"t":5100,"v":350,"s":"b"},{"t":5154,"v":340,"s":"b"},{"t":5210,"v":325,"s":"b"},{"t":5240,"v":320,"s":"b"},{"t":5260,"v":345,"s":"b"},{"t":5300,"v":330,"s":"b"},{"t":5378,"v":313,"s":"b"},{"t":5435,"v":288,"s":"b"},{"t":5460,"v":285,"s":"b"},{"t":5480,"v":230,"s":"b"},{"t":5500,"v":185,"s":"b"},{"t":5528,"v":174,"s":"b"},{"t":5603,"v":170,"s":"b"},{"t":5640,"v":158,"s":"b"},{"t":5665,"v":175,"s":"b"},{"t":5690,"v":165,"s":"b"},{"t":5734,"v":150,"s":"b"},{"t":5800,"v":147,"s":"b"},{"t":6000,"v":146,"s":"b"},{"t":6200,"v":147,"s":"b"},{"t":6352,"v":150,"s":"b"},{"t":6427,"v":165,"s":"b"},{"t":6450,"v":200,"s":"b"},{"t":6483,"v":259,"s":"b"},{"t":6521,"v":287,"s":"b"},{"t":6577,"v":282,"s":"b"},{"t":6615,"v":295,"s":"b"},{"t":6652,"v":296,"s":"b"},{"t":6690,"v":240,"s":"b"},{"t":6727,"v":278,"s":"b"},{"t":6839,"v":288,"s":"b"},{"t":6914,"v":280,"s":"b"},{"t":6950,"v":230,"s":"b"},{"t":6990,"v":189,"s":"b"},{"t":7101,"v":185,"s":"b"},{"t":7270,"v":184,"s":"b"},
  {"t":4806,"v":96,"s":"g"},{"t":4966,"v":100,"s":"g"},{"t":5000,"v":104,"s":"g"},{"t":5210,"v":104,"s":"g"},{"t":5229,"v":120,"s":"g"},{"t":5285,"v":150,"s":"g"},{"t":5472,"v":150,"s":"g"},{"t":5490,"v":190,"s":"g"},{"t":5528,"v":228,"s":"g"},{"t":5603,"v":242,"s":"g"},{"t":5678,"v":219,"s":"g"},{"t":5715,"v":208,"s":"g"},{"t":5734,"v":240,"s":"g"},{"t":5753,"v":437,"s":"g"},{"t":5772,"v":320,"s":"g"},{"t":5809,"v":195,"s":"g"},{"t":5865,"v":208,"s":"g"},{"t":5903,"v":228,"s":"g"},{"t":5940,"v":189,"s":"g"},{"t":5978,"v":220,"s":"g"},{"t":6034,"v":215,"s":"g"},{"t":6071,"v":195,"s":"g"},{"t":6127,"v":240,"s":"g"},{"t":6165,"v":288,"s":"g"},{"t":6195,"v":208,"s":"g"},{"t":6220,"v":178,"s":"g"},{"t":6277,"v":178,"s":"g"},{"t":6390,"v":170,"s":"g"},{"t":6446,"v":158,"s":"g"},{"t":6502,"v":135,"s":"g"},{"t":6577,"v":120,"s":"g"},{"t":6652,"v":112,"s":"g"},{"t":6839,"v":108,"s":"g"},{"t":7270,"v":107,"s":"g"},
  {"t":4806,"v":80,"s":"r"},{"t":4960,"v":82,"s":"r"},{"t":4985,"v":107,"s":"r"},{"t":5210,"v":105,"s":"r"},{"t":5235,"v":200,"s":"r"},{"t":5250,"v":367,"s":"r"},{"t":5262,"v":300,"s":"r"},{"t":5285,"v":200,"s":"r"},{"t":5322,"v":73,"s":"r"},{"t":5378,"v":58,"s":"r"},{"t":5490,"v":34,"s":"r"},{"t":5528,"v":31,"s":"r"},{"t":6000,"v":30,"s":"r"},{"t":6600,"v":32,"s":"r"},{"t":6727,"v":35,"s":"r"},{"t":6802,"v":58,"s":"r"},{"t":6877,"v":112,"s":"r"},{"t":6926,"v":135,"s":"r"},{"t":6990,"v":104,"s":"r"},{"t":7100,"v":100,"s":"r"},{"t":7270,"v":96,"s":"r"}
 ],
 "c3b":[
  {"t":4806,"lo":175,"hi":205,"s":"b"},{"t":4960,"lo":175,"hi":205,"s":"b"},{"t":5010,"lo":300,"hi":420,"s":"b"},{"t":5150,"lo":290,"hi":400,"s":"b"},{"t":5300,"lo":290,"hi":370,"s":"b"},{"t":5435,"lo":260,"hi":320,"s":"b"},{"t":5500,"lo":170,"hi":210,"s":"b"},{"t":5600,"lo":150,"hi":190,"s":"b"},{"t":5800,"lo":135,"hi":160,"s":"b"},{"t":6300,"lo":135,"hi":165,"s":"b"},{"t":6427,"lo":150,"hi":185,"s":"b"},{"t":6500,"lo":230,"hi":330,"s":"b"},{"t":6650,"lo":250,"hi":350,"s":"b"},{"t":6700,"lo":200,"hi":290,"s":"b"},{"t":6900,"lo":250,"hi":310,"s":"b"},{"t":6990,"lo":175,"hi":205,"s":"b"},{"t":7270,"lo":170,"hi":200,"s":"b"},
  {"t":4806,"lo":80,"hi":115,"s":"g"},{"t":5210,"lo":85,"hi":120,"s":"g"},{"t":5285,"lo":130,"hi":170,"s":"g"},{"t":5472,"lo":130,"hi":170,"s":"g"},{"t":5528,"lo":200,"hi":260,"s":"g"},{"t":5715,"lo":180,"hi":240,"s":"g"},{"t":5753,"lo":260,"hi":640,"s":"g"},{"t":5772,"lo":250,"hi":400,"s":"g"},{"t":5809,"lo":170,"hi":230,"s":"g"},{"t":6127,"lo":190,"hi":290,"s":"g"},{"t":6165,"lo":200,"hi":350,"s":"g"},{"t":6220,"lo":150,"hi":210,"s":"g"},{"t":6446,"lo":140,"hi":180,"s":"g"},{"t":6577,"lo":100,"hi":140,"s":"g"},{"t":7270,"lo":90,"hi":125,"s":"g"},
  {"t":4806,"lo":30,"hi":135,"s":"r"},{"t":4960,"lo":40,"hi":140,"s":"r"},{"t":5000,"lo":60,"hi":165,"s":"r"},{"t":5210,"lo":60,"hi":170,"s":"r"},{"t":5250,"lo":200,"hi":400,"s":"r"},{"t":5285,"lo":120,"hi":260,"s":"r"},{"t":5322,"lo":40,"hi":120,"s":"r"},{"t":5490,"lo":10,"hi":60,"s":"r"},{"t":6700,"lo":10,"hi":70,"s":"r"},{"t":6800,"lo":40,"hi":140,"s":"r"},{"t":6926,"lo":80,"hi":210,"s":"r"},{"t":6990,"lo":60,"hi":150,"s":"r"},{"t":7270,"lo":60,"hi":130,"s":"r"}
 ],
 "c3x":[{"t":6042,"v":321,"t2":5997,"v2":243,"a":13},{"t":6801,"v":360,"t2":6652,"v2":287,"a":40},{"t":5660,"v":80,"t2":5528,"v2":45,"a":57}],
 "c3t":[{"t":6146,"v":383,"label":"20 °C Ar","s":"g"},{"t":6904,"v":398,"label":"75 °C O₂","s":"b"},{"t":5966,"v":96,"label":"20 °C O₂","s":"r"}]
},
"columns":3,
"spacing":{"row":5,"column":28},
"bounds":"flush",
"concat":[
  {"width":221,"height":70,
   "encoding":{"x":{"field":"t","type":"quantitative","scale":{"domain":[0,2660],"nice":false,"zero":false},"axis":{"values":[0,500,1000,1500,2000,2500],"labels":false,"title":null}},
    "y":{"field":"v","type":"quantitative","scale":{"domain":[-113,6],"nice":false,"zero":false},"axis":{"values":[0,-25,-50,-75,-100],"format":"d","title":["Current Density","(mA cm⁻²geo)"]}}},
   "layer":[
    {"data":{"name":"gA"},"mark":{"type":"rule","color":"#c8c8c8","strokeDash":[1.5,1.5],"strokeWidth":0.8},"encoding":{"y":{"value":0},"y2":{"value":"height"}}},
    {"data":{"name":"a1"},"mark":{"type":"line","strokeWidth":1.6},"encoding":{"color":{"field":"s","type":"nominal","scale":{"domain":["r","g","b"],"range":["#ff1414","#1b8c1b","#1414ff"]},"legend":null},"detail":{"field":"k"},"order":{"value":null}}},
    {"data":{"name":"ha"},"mark":{"type":"text","font":"Open Sans","fontSize":19,"color":"#222","align":"center","baseline":"middle","clip":false},"encoding":{"text":{"field":"label","type":"nominal"}}}
   ]},
  {"width":221,"height":70,
   "encoding":{"x":{"field":"t","type":"quantitative","scale":{"domain":[2770,5130],"nice":false,"zero":false},"axis":{"values":[3000,3500,4000,4500,5000],"labels":false,"title":null}},
    "y":{"field":"v","type":"quantitative","scale":{"domain":[-79,72],"nice":false,"zero":false},"axis":{"values":[50,0,-50],"format":"d","title":null}}},
   "layer":[
    {"data":{"name":"gB"},"mark":{"type":"rule","color":"#c8c8c8","strokeDash":[1.5,1.5],"strokeWidth":0.8},"encoding":{"y":{"value":0},"y2":{"value":"height"}}},
    {"data":{"name":"b1g"},"mark":{"type":"rule","color":"#1b8c1b","opacity":0.35,"strokeWidth":1},"encoding":{"x2":{"field":"t2"}}},
    {"data":{"name":"b1"},"mark":{"type":"line","strokeWidth":1.8},"encoding":{"color":{"field":"s","type":"nominal","scale":{"domain":["r","g","b"],"range":["#ff1414","#1b8c1b","#1414ff"]},"legend":null},"detail":{"field":"k"},"order":{"value":null}}},
    {"data":{"name":"hb"},"mark":{"type":"text","font":"Open Sans","fontSize":19,"color":"#222","align":"center","baseline":"middle","clip":false},"encoding":{"text":{"field":"label","type":"nominal"}}}
   ]},
  {"width":218,"height":70,
   "encoding":{"x":{"field":"t","type":"quantitative","scale":{"domain":[4806,7270],"nice":false,"zero":false},"axis":{"values":[5000,5500,6000,6500,7000],"labels":false,"title":null}},
    "y":{"field":"v","type":"quantitative","scale":{"domain":[-128,26],"nice":false,"zero":false},"axis":{"values":[0,-50,-100],"format":"d","title":null}}},
   "layer":[
    {"data":{"name":"gC"},"mark":{"type":"rule","color":"#c8c8c8","strokeDash":[1.5,1.5],"strokeWidth":0.8},"encoding":{"y":{"value":0},"y2":{"value":"height"}}},
    {"data":{"name":"c1"},"mark":{"type":"line","strokeWidth":1.6},"encoding":{"color":{"field":"s","type":"nominal","scale":{"domain":["r","g","b"],"range":["#ff1414","#1b8c1b","#1414ff"]},"legend":null},"detail":{"field":"k"},"order":{"value":null}}},
    {"data":{"name":"hc"},"mark":{"type":"text","font":"Open Sans","fontSize":19,"color":"#222","align":"center","baseline":"middle","clip":false},"encoding":{"text":{"field":"label","type":"nominal"}}}
   ]},
  {"width":221,"height":70,
   "encoding":{"x":{"field":"t","type":"quantitative","scale":{"domain":[0,2660],"nice":false,"zero":false},"axis":{"values":[0,500,1000,1500,2000,2500],"labels":false,"title":null}},
    "y":{"field":"v","type":"quantitative","scale":{"domain":[0.3,1.07],"nice":false,"zero":false},"axis":{"values":[0.4,0.6,0.8,1],"format":"~g","title":["Potential","(VRHE, iR-free)"],"titlePadding":8}}},
   "layer":[
    {"data":{"name":"gA"},"mark":{"type":"rule","color":"#c8c8c8","strokeDash":[1.5,1.5],"strokeWidth":0.8},"encoding":{"y":{"value":0},"y2":{"value":"height"}}},
    {"data":{"name":"a2b"},"mark":{"type":"area","opacity":0.25},"encoding":{"y":{"field":"lo","type":"quantitative","scale":{"domain":[0.3,1.07],"nice":false,"zero":false}},"y2":{"field":"hi"},"color":{"field":"s","type":"nominal","scale":{"domain":["r","g","b"],"range":["#ff1414","#1b8c1b","#1414ff"]},"legend":null},"detail":{"field":"k"},"order":{"value":null}}},
    {"data":{"name":"a2"},"mark":{"type":"line","strokeWidth":1.4},"encoding":{"color":{"field":"s","type":"nominal","scale":{"domain":["r","g","b"],"range":["#ff1414","#1b8c1b","#1414ff"]},"legend":null},"order":{"value":null}}}
   ]},
  {"width":221,"height":70,
   "encoding":{"x":{"field":"t","type":"quantitative","scale":{"domain":[2770,5130],"nice":false,"zero":false},"axis":{"values":[3000,3500,4000,4500,5000],"labels":false,"title":null}},
    "y":{"field":"v","type":"quantitative","scale":{"domain":[0.17,1.15],"nice":false,"zero":false},"axis":{"values":[0.2,0.4,0.6,0.8,1],"format":"~g","title":null}}},
   "layer":[
    {"data":{"name":"gB"},"mark":{"type":"rule","color":"#c8c8c8","strokeDash":[1.5,1.5],"strokeWidth":0.8},"encoding":{"y":{"value":0},"y2":{"value":"height"}}},
    {"data":{"name":"b2g"},"mark":{"type":"rule","color":"#1b8c1b","opacity":0.55,"strokeWidth":1.2},"encoding":{"x2":{"field":"t2"}}},
    {"data":{"name":"b2"},"mark":{"type":"line","strokeWidth":1.4},"encoding":{"color":{"field":"s","type":"nominal","scale":{"domain":["r","g","b"],"range":["#ff1414","#1b8c1b","#1414ff"]},"legend":null},"detail":{"field":"k"},"order":{"value":null}}}
   ]},
  {"width":218,"height":70,
   "encoding":{"x":{"field":"t","type":"quantitative","scale":{"domain":[4806,7270],"nice":false,"zero":false},"axis":{"values":[5000,5500,6000,6500,7000],"labels":false,"title":null}},
    "y":{"field":"v","type":"quantitative","scale":{"domain":[0.17,1.15],"nice":false,"zero":false},"axis":{"values":[0.2,0.4,0.6,0.8,1],"format":"~g","title":null}}},
   "layer":[
    {"data":{"name":"gC"},"mark":{"type":"rule","color":"#c8c8c8","strokeDash":[1.5,1.5],"strokeWidth":0.8},"encoding":{"y":{"value":0},"y2":{"value":"height"}}},
    {"data":{"name":"c2b"},"mark":{"type":"area","opacity":0.25},"encoding":{"y":{"field":"lo","type":"quantitative","scale":{"domain":[0.17,1.15],"nice":false,"zero":false}},"y2":{"field":"hi"},"color":{"field":"s","type":"nominal","scale":{"domain":["r","g","b"],"range":["#ff1414","#1b8c1b","#1414ff"]},"legend":null},"detail":{"field":"k"},"order":{"value":null}}},
    {"data":{"name":"c2"},"mark":{"type":"line","strokeWidth":1.4},"encoding":{"color":{"field":"s","type":"nominal","scale":{"domain":["r","g","b"],"range":["#ff1414","#1b8c1b","#1414ff"]},"legend":null},"order":{"value":null}}}
   ]},
  {"width":221,"height":139,
   "encoding":{"x":{"field":"t","type":"quantitative","scale":{"domain":[0,2660],"nice":false,"zero":false},"axis":{"values":[0,500,1000,1500,2000,2500],"format":"d","title":"Time (s)"}},
    "y":{"field":"v","type":"quantitative","scale":{"type":"log","domain":[3,2200],"nice":false},"axis":{"values":[10,100,1000],"format":"d","title":["dFe dt⁻¹","(ngFe gFeNC⁻¹ s⁻¹)"]}}},
   "layer":[
    {"data":{"name":"gA"},"mark":{"type":"rule","color":"#c8c8c8","strokeDash":[1.5,1.5],"strokeWidth":0.8},"encoding":{"y":{"value":0},"y2":{"value":"height"}}},
    {"data":{"name":"a3b"},"mark":{"type":"area","opacity":0.25},"encoding":{"y":{"field":"lo","type":"quantitative","scale":{"type":"log","domain":[3,2200],"nice":false}},"y2":{"field":"hi"},"color":{"field":"s","type":"nominal","scale":{"domain":["r","g","b"],"range":["#ff1414","#1b8c1b","#1414ff"]},"legend":null},"order":{"value":null}}},
    {"data":{"name":"a3"},"mark":{"type":"line","strokeWidth":1.5},"encoding":{"color":{"field":"s","type":"nominal","scale":{"domain":["r","g","b"],"range":["#ff1414","#1b8c1b","#1414ff"]},"legend":null},"order":{"value":null}}},
    {"data":{"name":"a3x"},"mark":{"type":"rule","color":"#111","strokeWidth":1},"encoding":{"x2":{"field":"t2"},"y2":{"field":"v2"}}},
    {"data":{"name":"a3x"},"mark":{"type":"point","shape":"triangle","filled":true,"color":"#111","size":28,"opacity":1},"encoding":{"angle":{"field":"a","type":"quantitative","scale":null}}},
    {"data":{"name":"a3t"},"mark":{"type":"text","font":"Liberation Sans","fontWeight":"bold","fontSize":13,"align":"center","baseline":"middle","clip":false},"encoding":{"text":{"field":"label","type":"nominal"},"color":{"field":"s","type":"nominal","scale":{"domain":["r","g","b"],"range":["#ff1414","#1b8c1b","#1414ff"]},"legend":null}}}
   ]},
  {"width":221,"height":139,
   "encoding":{"x":{"field":"t","type":"quantitative","scale":{"domain":[2770,5130],"nice":false,"zero":false},"axis":{"values":[3000,3500,4000,4500],"format":"d","title":"Time (s)"}},
    "y":{"field":"v","type":"quantitative","scale":{"domain":[0,335],"nice":false,"zero":false},"axis":{"values":[0,50,100,150,200,250,300],"format":"d","title":null}}},
   "layer":[
    {"data":{"name":"gB"},"mark":{"type":"rule","color":"#c8c8c8","strokeDash":[1.5,1.5],"strokeWidth":0.8},"encoding":{"y":{"value":0},"y2":{"value":"height"}}},
    {"data":{"name":"b3b"},"mark":{"type":"area","opacity":0.25},"encoding":{"y":{"field":"lo","type":"quantitative","scale":{"domain":[0,335],"nice":false,"zero":false}},"y2":{"field":"hi"},"color":{"field":"s","type":"nominal","scale":{"domain":["r","g","b"],"range":["#ff1414","#1b8c1b","#1414ff"]},"legend":null},"order":{"value":null}}},
    {"data":{"name":"b3"},"mark":{"type":"line","strokeWidth":1.5},"encoding":{"color":{"field":"s","type":"nominal","scale":{"domain":["r","g","b"],"range":["#ff1414","#1b8c1b","#1414ff"]},"legend":null},"order":{"value":null}}},
    {"data":{"name":"b3x"},"mark":{"type":"rule","color":"#111","strokeWidth":1},"encoding":{"x2":{"field":"t2"},"y2":{"field":"v2"}}},
    {"data":{"name":"b3x"},"mark":{"type":"point","shape":"triangle","filled":true,"color":"#111","size":28,"opacity":1},"encoding":{"angle":{"field":"a","type":"quantitative","scale":null}}},
    {"data":{"name":"b3t"},"mark":{"type":"text","font":"Liberation Sans","fontWeight":"bold","fontSize":13,"align":"center","baseline":"middle","clip":false},"encoding":{"text":{"field":"label","type":"nominal"},"color":{"field":"s","type":"nominal","scale":{"domain":["r","g","b"],"range":["#ff1414","#1b8c1b","#1414ff"]},"legend":null}}}
   ]},
  {"width":218,"height":139,
   "encoding":{"x":{"field":"t","type":"quantitative","scale":{"domain":[4806,7270],"nice":false,"zero":false},"axis":{"values":[5000,5500,6000,6500,7000],"format":"d","title":"Time (s)"}},
    "y":{"field":"v","type":"quantitative","scale":{"domain":[0,655],"nice":false,"zero":false},"axis":{"values":[0,100,200,300,400,500,600],"format":"d","title":null}}},
   "layer":[
    {"data":{"name":"gC"},"mark":{"type":"rule","color":"#c8c8c8","strokeDash":[1.5,1.5],"strokeWidth":0.8},"encoding":{"y":{"value":0},"y2":{"value":"height"}}},
    {"data":{"name":"c3b"},"mark":{"type":"area","opacity":0.25},"encoding":{"y":{"field":"lo","type":"quantitative","scale":{"domain":[0,655],"nice":false,"zero":false}},"y2":{"field":"hi"},"color":{"field":"s","type":"nominal","scale":{"domain":["r","g","b"],"range":["#ff1414","#1b8c1b","#1414ff"]},"legend":null},"order":{"value":null}}},
    {"data":{"name":"c3"},"mark":{"type":"line","strokeWidth":1.5},"encoding":{"color":{"field":"s","type":"nominal","scale":{"domain":["r","g","b"],"range":["#ff1414","#1b8c1b","#1414ff"]},"legend":null},"order":{"value":null}}},
    {"data":{"name":"c3x"},"mark":{"type":"rule","color":"#111","strokeWidth":1},"encoding":{"x2":{"field":"t2"},"y2":{"field":"v2"}}},
    {"data":{"name":"c3x"},"mark":{"type":"point","shape":"triangle","filled":true,"color":"#111","size":28,"opacity":1},"encoding":{"angle":{"field":"a","type":"quantitative","scale":null}}},
    {"data":{"name":"c3t"},"mark":{"type":"text","font":"Liberation Sans","fontWeight":"bold","fontSize":13,"align":"center","baseline":"middle","clip":false},"encoding":{"text":{"field":"label","type":"nominal"},"color":{"field":"s","type":"nominal","scale":{"domain":["r","g","b"],"range":["#ff1414","#1b8c1b","#1414ff"]},"legend":null}}}
   ]}
]
}
